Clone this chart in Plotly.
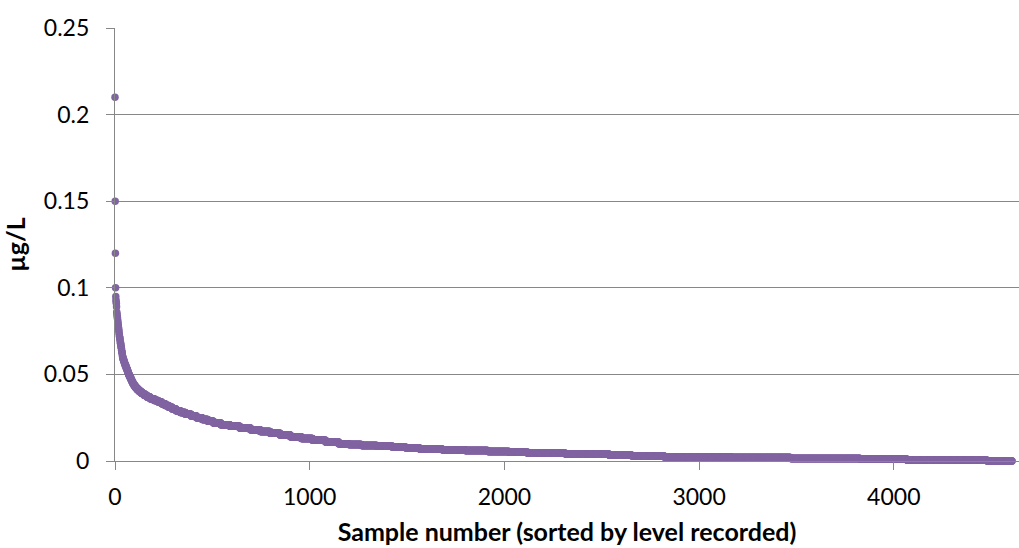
import numpy as np
import plotly.graph_objects as go

# Recorded levels (µg/L), highest first, and how many samples recorded each level
levels = [0.21, 0.15, 0.12, 0.10,
          0.095, 0.093, 0.092, 0.091, 0.089, 0.086, 0.085, 0.084, 0.083, 0.082,
          0.081, 0.080, 0.079, 0.078, 0.077, 0.076, 0.075, 0.074, 0.073, 0.072,
          0.071, 0.070, 0.069, 0.068, 0.067, 0.066, 0.065, 0.064, 0.063, 0.062,
          0.061, 0.060, 0.059, 0.058, 0.057, 0.056, 0.055, 0.054, 0.053, 0.052,
          0.051, 0.050, 0.049, 0.048, 0.047, 0.046, 0.045, 0.044, 0.043, 0.042,
          0.041, 0.040, 0.039, 0.038, 0.037, 0.036, 0.035, 0.034, 0.033, 0.032,
          0.031, 0.030, 0.029, 0.028, 0.027, 0.026, 0.025, 0.024, 0.023, 0.022,
          0.021, 0.020, 0.019, 0.018, 0.017, 0.016, 0.015, 0.014, 0.013, 0.012,
          0.011, 0.010, 0.0095, 0.009, 0.0085, 0.008, 0.0075, 0.007, 0.0065,
          0.006, 0.0055, 0.005, 0.0045, 0.004, 0.0035, 0.003, 0.0025, 0.002,
          0.0015, 0.001, 0.0005, 0.0]
counts = [1, 1, 1, 1,
          1, 1, 1, 1, 1, 1, 1, 1, 1, 1,
          1, 1, 1, 1, 1, 1, 1, 1, 1, 1,
          2, 1, 1, 2, 1, 2, 1, 1, 2, 1,
          1, 2, 3, 3, 3, 3, 4, 3, 4, 3,
          3, 4, 4, 4, 4, 4, 5, 6, 7, 8,
          10, 11, 13, 14, 17, 21, 20, 18, 18, 18,
          18, 20, 22, 26, 29, 28, 29, 29, 29, 38,
          46, 51, 55, 50, 51, 51, 53, 56, 58, 67,
          67, 51, 66, 80, 80, 69, 70, 116, 117,
          117, 110, 95, 194, 223, 116, 166, 343, 308,
          359, 240, 411, 128]

values = np.repeat(levels, counts)
samples = np.arange(len(values))

x_ticks = [0, 1000, 2000, 3000, 4000]
y_ticks = [0, 0.05, 0.1, 0.15, 0.2, 0.25]
y_tick_text = ["0", "0.05", "0.1", "0.15", "0.2", "0.25"]

font_family = "Lato, 'Open Sans', sans-serif"
grid_col = "#878787"

fig = go.Figure()
fig.add_trace(go.Scatter(
    x=samples, y=values, mode="markers",
    marker=dict(size=7.5, color="#8064A2", line=dict(width=0)),
    cliponaxis=False, showlegend=False,
))

fig.update_layout(
    width=1019, height=548,
    margin=dict(l=115, r=0, t=28, b=87),
    paper_bgcolor="white", plot_bgcolor="white",
    font=dict(family=font_family, size=23, color="#000000"),
    xaxis=dict(
        range=[0, 4643], tickvals=x_ticks, ticktext=[str(v) for v in x_ticks],
        showgrid=False, zeroline=False,
        showline=True, linecolor=grid_col, linewidth=1.3,
        ticks="outside", ticklen=8, tickcolor=grid_col, tickwidth=1.3,
        ticklabelstandoff=7,
        title=dict(text="<b>Sample number (sorted by level recorded)</b>",
                   font=dict(size=25), standoff=14),
    ),
    yaxis=dict(
        range=[0, 0.25], tickvals=y_ticks, ticktext=y_tick_text,
        showgrid=True, gridcolor=grid_col, gridwidth=1.3, zeroline=False,
        showline=True, linecolor=grid_col, linewidth=1.3,
        ticks="outside", ticklen=8, tickcolor=grid_col, tickwidth=1.3,
        ticklabelstandoff=12,
        title=dict(text="<b>µg/L</b>", font=dict(size=25), standoff=12),
    ),
)

fig.write_html("out.html")
